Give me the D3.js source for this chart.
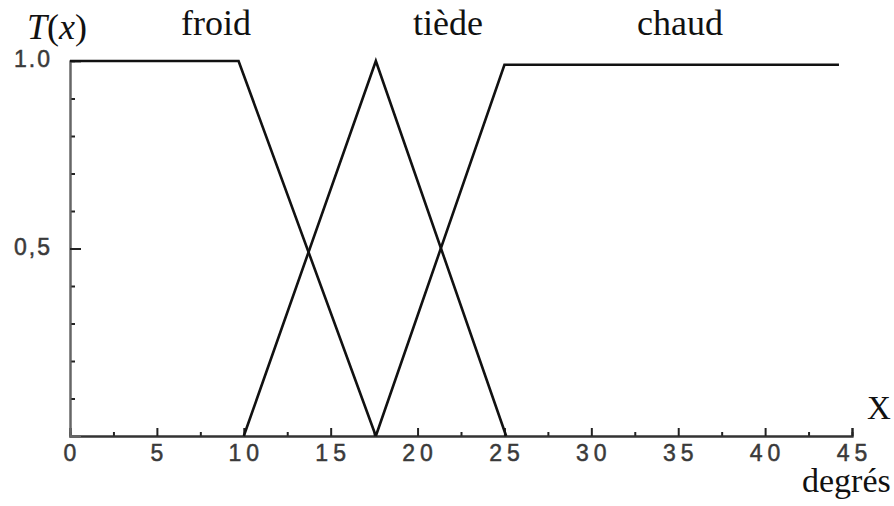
<!DOCTYPE html>
<html>
<head>
<meta charset="utf-8">
<script src="https://cdn.jsdelivr.net/npm/d3@7/dist/d3.min.js"></script>
<style>
  html, body { margin: 0; padding: 0; background: #fff; }
  svg { display: block; }
  .serif { font-family: "Liberation Serif", "Times New Roman", serif; fill: #111; }
  .tick-label { font-family: "Liberation Sans", Arial, sans-serif; font-size: 23px; fill: #3a3a3a; }
</style>
</head>
<body>
<script>
// Membership functions T(x) for three temperature classes
const setNames = ["froid", "tiède", "chaud"];
const froid = [[0, 1], [9.7, 1], [17.6, 0]];
const tiede = [[10, 0], [17.6, 1], [25.1, 0]];
const chaud = [[17.6, 0], [25, 0.99], [44.25, 0.99]];

// Axis ticks
const xMajorTicks = [0, 5, 10, 15, 20, 25, 30, 35, 40, 45];
const xMinorTicks = [2.5, 7.5, 12.5, 17.5, 22.5, 27.5, 32.5, 37.5, 42.5];
const yMinorTicks = [0.1, 0.2, 0.3, 0.4, 0.6, 0.7, 0.8, 0.9];
const yLabelTicks = [0.5, 1.0];
const yLabelText = ["0,5", "1.0"];

const W = 894, H = 506;
const svg = d3.select("body").append("svg").attr("width", W).attr("height", H);

const x = d3.scaleLinear().domain([0, 45]).range([70, 852]);
const y = d3.scaleLinear().domain([0, 1]).range([436, 61]);

// x axis: minor and major ticks point up into the plot
const gxMinor = svg.append("g").attr("transform", `translate(0,${y(0)})`)
  .call(d3.axisBottom(x).tickValues(xMinorTicks).tickSize(-4).tickFormat(""));
const gx = svg.append("g").attr("transform", `translate(0,${y(0)})`)
  .call(d3.axisBottom(x).tickValues(xMajorTicks).tickSize(-8).tickPadding(9)
    .tickFormat(d3.format("d")));
[gxMinor, gx].forEach(g => {
  g.select(".domain").attr("stroke", "#333").attr("stroke-width", 2);
  g.selectAll(".tick line").attr("stroke", "#222").attr("stroke-width", 2);
});
gx.selectAll(".tick text")
  .attr("class", "tick-label")
  .attr("letter-spacing", 5)
  .attr("dx", 2)
  .attr("fill", null)
  .attr("stroke", "#3a3a3a")
  .attr("stroke-width", 0.5);

// y axis: ticks point right into the plot
const gyMinor = svg.append("g").attr("transform", `translate(${x(0)},0)`)
  .call(d3.axisRight(y).tickValues(yMinorTicks).tickSize(5).tickFormat(""));
const gy = svg.append("g").attr("transform", `translate(${x(0)},0)`)
  .call(d3.axisRight(y).tickValues([0.5]).tickSize(11).tickFormat(""));
[gyMinor, gy].forEach(g => {
  g.select(".domain").attr("stroke", "#666").attr("stroke-width", 2);
  g.selectAll(".tick line").attr("stroke", "#222").attr("stroke-width", 2);
});

svg.append("g").selectAll("text")
  .data(yLabelTicks)
  .join("text")
  .attr("class", "tick-label")
  .attr("x", x(0) - 18)
  .attr("y", d => y(d) - 2)
  .attr("text-anchor", "end")
  .attr("dominant-baseline", "central")
  .attr("letter-spacing", 2)
  .attr("stroke", "#3a3a3a")
  .attr("stroke-width", 0.5)
  .text((d, i) => yLabelText[i]);

// membership curves
const line = d3.line().x(d => x(d[0])).y(d => y(d[1]));
svg.append("g").selectAll("path")
  .data([froid, tiede, chaud])
  .join("path")
  .attr("d", line)
  .attr("fill", "none")
  .attr("stroke", "#111")
  .attr("stroke-width", 2.6)
  .attr("stroke-linejoin", "miter");

// set names above the curves
const labelX = [181, 413, 637];
svg.append("g").selectAll("text")
  .data(setNames)
  .join("text")
  .attr("class", "serif")
  .attr("x", (d, i) => labelX[i])
  .attr("y", 35)
  .attr("font-size", 36)
  .text(d => d);

// y-axis title T(x)
const tx = svg.append("text").attr("class", "serif").attr("x", 27).attr("y", 39).attr("font-size", 36);
tx.append("tspan").attr("font-style", "italic").text("T");
tx.append("tspan").text("(");
tx.append("tspan").attr("font-style", "italic").text("x");
tx.append("tspan").text(")");

// x-axis title and unit
svg.append("text").attr("class", "serif").attr("x", 867).attr("y", 419).attr("font-size", 33).text("X");
svg.append("text").attr("class", "serif").attr("x", 802).attr("y", 492).attr("font-size", 34).text("degrés");
</script>
</body>
</html>
